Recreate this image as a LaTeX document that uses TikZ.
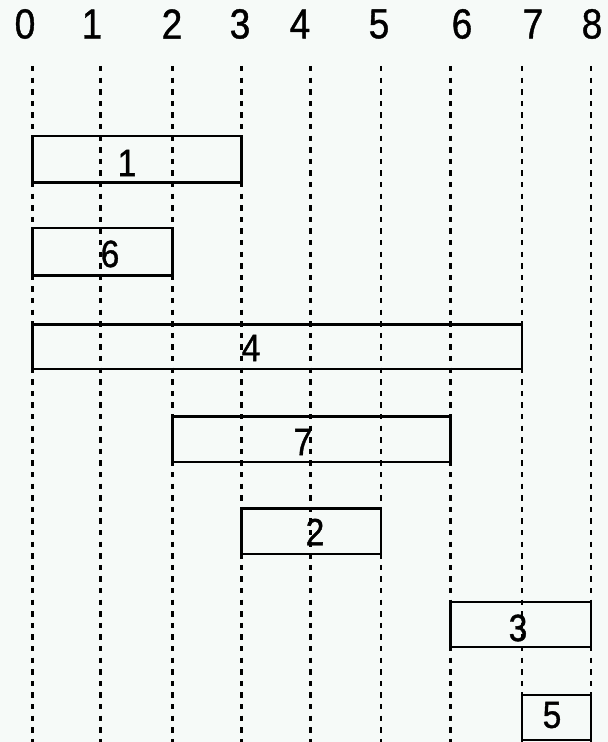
\documentclass[tikz,border=0pt]{standalone}
\usepackage{fontspec}
\setmainfont{Liberation Sans}[FakeStretch=0.88, FakeBold=1]
\usetikzlibrary{positioning, fit}
\definecolor{paper}{HTML}{F6FAF8}
\tikzset{
    tick/.style={font=\fontsize{21}{21}\selectfont, inner sep=0pt},
    slot/.style={rectangle, draw=black, line width=1.35pt, inner sep=0pt},
    tag/.style={font=\fontsize{19}{19}\selectfont, inner sep=0pt},
    gridline/.style={draw=black, line width=1.4pt, dash pattern=on 2.7pt off 3.1pt}
}

\begin{document}
\begin{tikzpicture}[x=0.5pt, y=-0.5pt]
    % Canvas
    \fill[paper] (0,0) rectangle (608,742);
    \useasboundingbox (0,0) rectangle (608,742);

    % Time marks
    \foreach \n/\x/\lx in {0/32.5/25, 1/100.5/92, 2/172.5/172, 3/241.5/240, 4/310.3/300,
                           5/381/379, 6/450.3/462, 7/522/533, 8/591/592} {
        \node[tick] (t\n) at (\lx,24) {\n};
        \coordinate (top\n) at (\x,66);
        \coordinate (bot\n) at (\x,742);
    }

    % Jobs
    \foreach \j/\a/\b/\ya/\yb in {1/0/3/136/182.5,
                                  6/0/2/228/275.5,
                                  4/0/7/324.5/369,
                                  7/2/6/416.8/462,
                                  2/3/5/508.7/554,
                                  3/6/8/602/647,
                                  5/7/8/695/740} {
        \node[slot, fit={(top\a |- 0,\ya) (top\b |- 0,\yb)}] (job\j) {};
    }

    % Dashed guides
    \foreach \n in {0,...,8}
        \draw[gridline] (top\n) -- (bot\n);

    % Job labels
    \foreach \j/\lx/\ly in {1/127/163, 6/110/254, 4/251/348, 7/303/442, 2/315/532, 3/518/628, 5/552/715}
        \node[tag] (lab\j) at (\lx,\ly) {\j};
\end{tikzpicture}
\end{document}
